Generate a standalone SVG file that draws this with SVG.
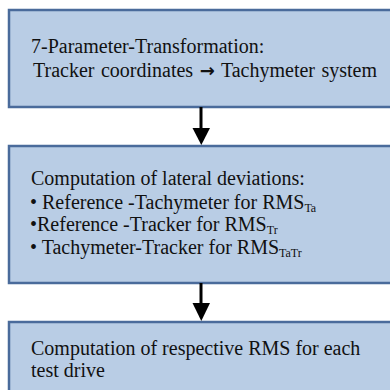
<svg xmlns="http://www.w3.org/2000/svg" width="390" height="390" viewBox="0 0 390 390">
<style>
.box{fill:#b9cde5;stroke:#4a6b9b;stroke-width:2.5}
.t{font-family:"Liberation Serif","Times New Roman",serif;font-size:20px;fill:#111}
.sub{font-size:12px}
.arr{font-family:"DejaVu Sans",sans-serif;font-weight:bold;font-size:18px}
.conn{stroke:#000;stroke-width:3}
</style>
<rect width="390" height="390" fill="#fff"/>
<g id="node1">
<rect class="box" x="9" y="10" width="400" height="97"/>
<text class="t" x="31" y="53">7-Parameter-Transformation:</text>
<text class="t" x="33" y="77" word-spacing="1.5">Tracker coordinates <tspan class="arr">→</tspan> Tachymeter system</text>
</g>
<g id="node2">
<rect class="box" x="9" y="146" width="400" height="137"/>
<text class="t" x="31" y="185" font-size="19">Computation of lateral deviations:</text>
<text class="t" x="30" y="209">• Reference -Tachymeter for RMS<tspan class="sub" dy="3">Ta</tspan></text>
<text class="t" x="30" y="231">•Reference -Tracker for RMS<tspan class="sub" dy="3">Tr</tspan></text>
<text class="t" x="30" y="254">• Tachymeter-Tracker for RMS<tspan class="sub" dy="3">TaTr</tspan></text>
</g>
<g id="node3">
<rect class="box" x="9" y="322" width="400" height="100"/>
<text class="t" x="31" y="355">Computation of respective RMS for each</text>
<text class="t" x="31" y="377">test drive</text>
</g>
<g id="connectors">
<line class="conn" x1="201" y1="107" x2="201" y2="129"/>
<polygon points="192.5,128 210,128 201.3,145"/>
<line class="conn" x1="201" y1="283" x2="201" y2="304"/>
<polygon points="192.5,303 210,303 201.3,321"/>
</g>
</svg>
